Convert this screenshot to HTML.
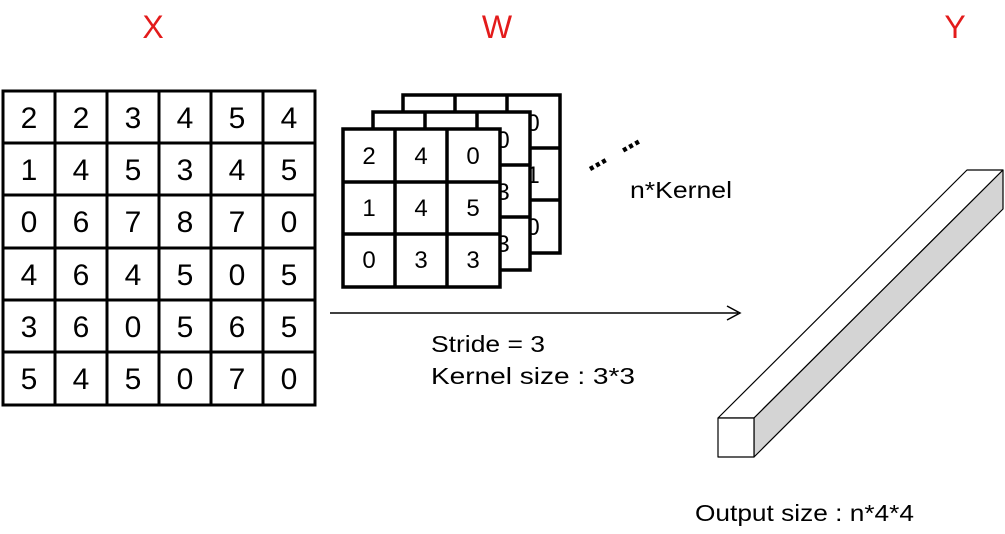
<!DOCTYPE html>
<html><head><style>body{margin:0;background:#fff}svg{display:block}</style></head><body>
<svg width="1005" height="534" viewBox="0 0 1005 534" xmlns="http://www.w3.org/2000/svg" font-family="Liberation Sans, Arial, sans-serif">
<g fill="#e31b1b" font-size="32" text-anchor="middle">
<text x="153" y="38">X</text><text x="497" y="38">W</text><text x="955" y="38">Y</text>
</g>
<g stroke="#000" stroke-width="3" fill="none">
<rect x="3" y="91" width="312" height="314"/>
<line x1="55" y1="91" x2="55" y2="405"/><line x1="107" y1="91" x2="107" y2="405"/><line x1="159" y1="91" x2="159" y2="405"/><line x1="211" y1="91" x2="211" y2="405"/><line x1="263" y1="91" x2="263" y2="405"/>
<line x1="3" y1="143" x2="315" y2="143"/><line x1="3" y1="195" x2="315" y2="195"/><line x1="3" y1="248" x2="315" y2="248"/><line x1="3" y1="300" x2="315" y2="300"/><line x1="3" y1="352" x2="315" y2="352"/>
</g>
<g font-size="30" text-anchor="middle">
<text x="29" y="128">2</text><text x="81" y="128">2</text><text x="133" y="128">3</text><text x="185" y="128">4</text><text x="237" y="128">5</text><text x="289" y="128">4</text>
<text x="29" y="180">1</text><text x="81" y="180">4</text><text x="133" y="180">5</text><text x="185" y="180">3</text><text x="237" y="180">4</text><text x="289" y="180">5</text>
<text x="29" y="232">0</text><text x="81" y="232">6</text><text x="133" y="232">7</text><text x="185" y="232">8</text><text x="237" y="232">7</text><text x="289" y="232">0</text>
<text x="29" y="285">4</text><text x="81" y="285">6</text><text x="133" y="285">4</text><text x="185" y="285">5</text><text x="237" y="285">0</text><text x="289" y="285">5</text>
<text x="29" y="337">3</text><text x="81" y="337">6</text><text x="133" y="337">0</text><text x="185" y="337">5</text><text x="237" y="337">6</text><text x="289" y="337">5</text>
<text x="29" y="389">5</text><text x="81" y="389">4</text><text x="133" y="389">5</text><text x="185" y="389">0</text><text x="237" y="389">7</text><text x="289" y="389">0</text>
</g>
<g stroke="#000" stroke-width="3.5" fill="#fff">
<rect x="403" y="95" width="157" height="158"/>
<line x1="455" y1="95" x2="455" y2="253"/><line x1="507" y1="95" x2="507" y2="253"/><line x1="403" y1="148" x2="560" y2="148"/><line x1="403" y1="200" x2="560" y2="200"/>
</g>
<g font-size="24" text-anchor="middle"><text x="533" y="131">0</text><text x="533" y="183">1</text><text x="533" y="235">0</text></g>
<g stroke="#000" stroke-width="3.5" fill="#fff">
<rect x="373" y="112" width="157" height="158"/>
<line x1="425" y1="112" x2="425" y2="270"/><line x1="477" y1="112" x2="477" y2="270"/><line x1="373" y1="165" x2="530" y2="165"/><line x1="373" y1="217" x2="530" y2="217"/>
</g>
<g font-size="24" text-anchor="middle"><text x="503" y="148">0</text><text x="503" y="200">3</text><text x="503" y="252">3</text></g>
<g stroke="#000" stroke-width="3.5" fill="#fff">
<rect x="343" y="129" width="157" height="158"/>
<line x1="395" y1="129" x2="395" y2="287"/><line x1="447" y1="129" x2="447" y2="287"/><line x1="343" y1="182" x2="500" y2="182"/><line x1="343" y1="234" x2="500" y2="234"/>
</g>
<g font-size="24" text-anchor="middle">
<text x="369" y="164">2</text><text x="421" y="164">4</text><text x="473" y="164">0</text>
<text x="369" y="216">1</text><text x="421" y="216">4</text><text x="473" y="216">5</text>
<text x="369" y="268">0</text><text x="421" y="268">3</text><text x="473" y="268">3</text>
</g>
<line x1="590" y1="169" x2="656" y2="132" stroke="#000" stroke-width="4.5" stroke-dasharray="4,3,4,3,4,20"/>
<text x="630" y="198" font-size="23" textLength="102" lengthAdjust="spacingAndGlyphs">n*Kernel</text>
<line x1="330" y1="313" x2="738" y2="313" stroke="#000" stroke-width="1.5"/>
<path d="M727 306 L740 313 L727 320" fill="none" stroke="#000" stroke-width="1.5"/>
<text x="431" y="352" font-size="23" textLength="114" lengthAdjust="spacingAndGlyphs">Stride = 3</text>
<text x="431" y="384" font-size="23" textLength="204" lengthAdjust="spacingAndGlyphs">Kernel size : 3*3</text>
<g stroke="#000" stroke-width="1.2" stroke-linejoin="round">
<polygon points="718,418 967,170 1003,170 754,418" fill="#fff"/>
<polygon points="754,418 1003,170 1003,209 754,457" fill="#d4d4d4"/>
<rect x="718" y="418" width="36" height="39" fill="#fff"/>
</g>
<text x="695" y="521" font-size="23" textLength="219" lengthAdjust="spacingAndGlyphs">Output size : n*4*4</text>
</svg>
</body></html>
